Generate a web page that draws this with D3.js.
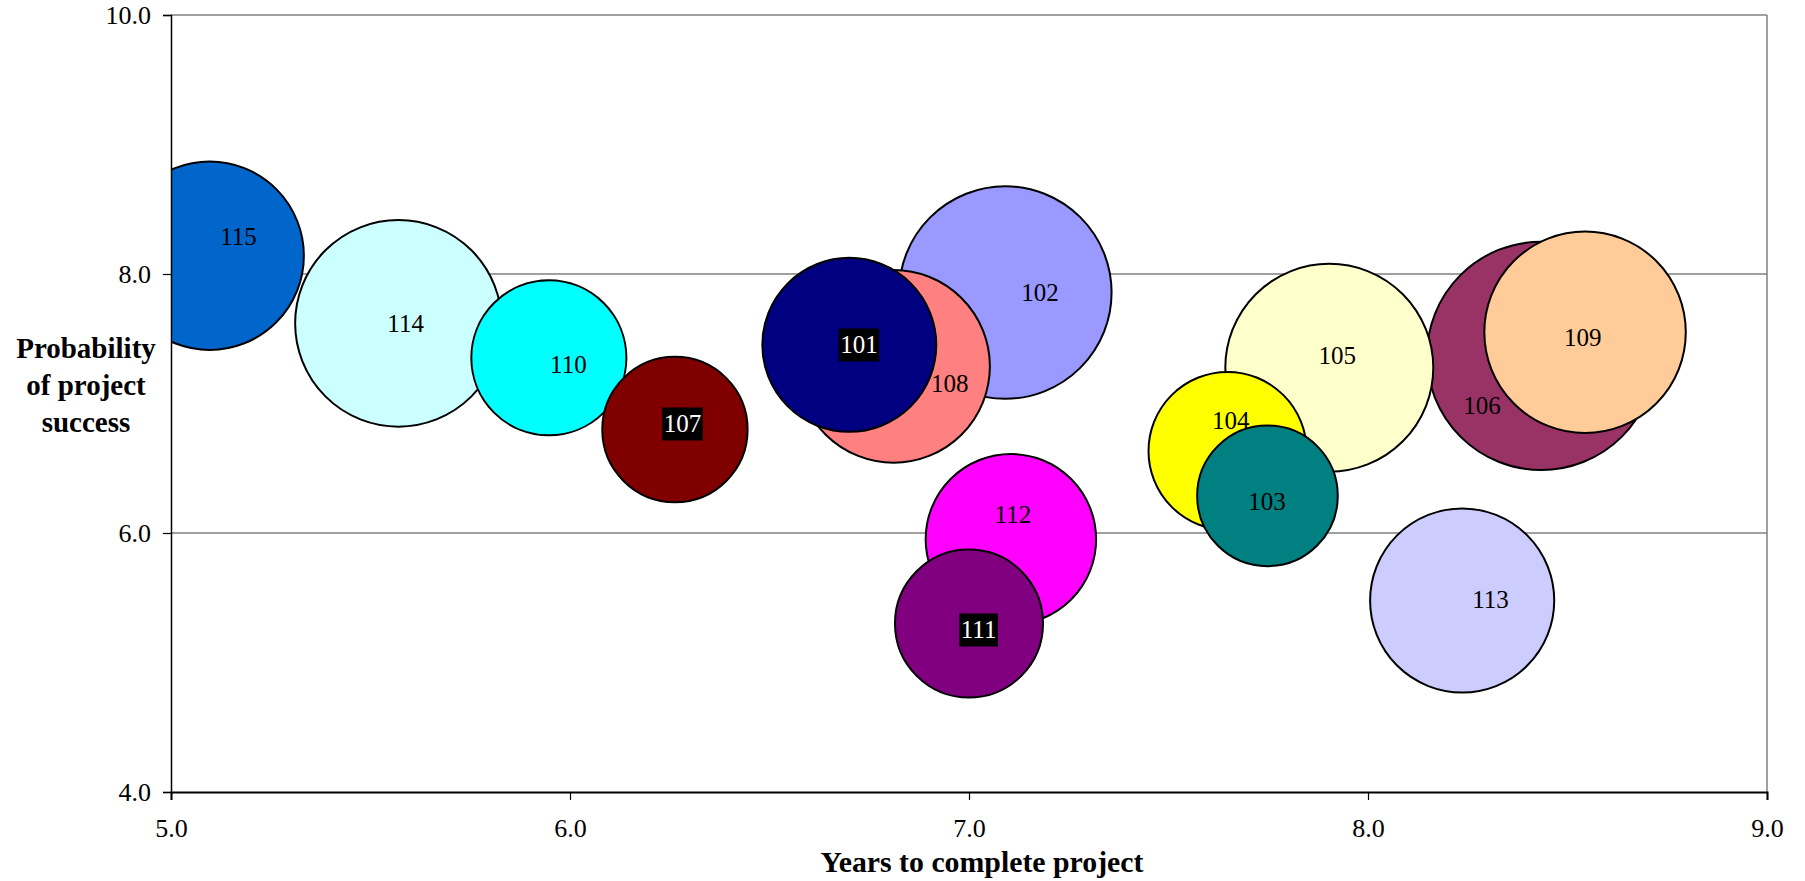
<!DOCTYPE html>
<html>
<head>
<meta charset="utf-8">
<script src="https://cdn.jsdelivr.net/npm/d3@7"></script>
<style>
  html, body { margin: 0; padding: 0; background: #ffffff; }
  svg { display: block; }
  text { font-family: "Liberation Serif", "Times New Roman", serif; }
</style>
</head>
<body>
<svg id="chart" width="1805" height="881"></svg>
<script>
// ---- Data ----
const projects    = ["101","102","103","104","105","106","107","108","109","110","111","112","113","114","115"];
const years       = [6.700, 7.091, 7.748, 7.648, 7.903, 8.434, 6.263, 6.811, 8.544, 5.947, 7.000, 7.105, 8.236, 5.570, 5.097];
const probability = [7.453, 7.857, 6.287, 6.633, 7.276, 7.368, 6.799, 7.287, 7.550, 7.353, 5.301, 5.952, 5.479, 7.619, 8.141];
const bubbleSize  = [58.0, 86.6, 37.9, 47.9, 82.9, 100.0, 40.5, 71.1, 77.8, 46.1, 42.0, 55.7, 65.0, 81.8, 68.0];
const fillColors  = ["#000080","#9999FF","#008080","#FFFF00","#FFFFCC","#993366","#800000","#FF8080","#FFCC99","#00FFFF","#800080","#FF00FF","#CCCCFF","#CCFFFF","#0066CC"];
// data-label anchor points (in data units) as placed in the reference
const labelYears  = [6.724, 7.178, 7.747, 7.656, 7.923, 8.286, 6.282, 6.952, 8.538, 5.996, 7.024, 7.110, 8.307, 5.588, 5.169];
const labelProb   = [7.452, 7.859, 6.240, 6.867, 7.368, 6.983, 6.842, 7.151, 7.511, 7.305, 5.251, 6.144, 5.483, 7.614, 8.286];
const boxedLabels = ["101","107","111"];
const xTickValues = [5, 6, 7, 8, 9];
const yTickValues = [4, 6, 8, 10];
const xTitle = "Years to complete project";
const yTitleLines = ["Probability", "of project", "success"];

// ---- Layout ----
const plot = { left: 171, right: 1767, top: 15, bottom: 792 };
const svg = d3.select("#chart");

const x = d3.scaleLinear().domain([5, 9]).range([plot.left, plot.right]);
const y = d3.scaleLinear().domain([4, 10]).range([plot.bottom, plot.top]);
const r = d3.scaleSqrt().domain([0, d3.max(bubbleSize)]).range([0, 114.2]);

const rows = projects.map((p, i) => ({
  id: p, x: years[i], y: probability[i], size: bubbleSize[i], color: fillColors[i],
  lx: labelYears[i], ly: labelProb[i], boxed: boxedLabels.includes(p)
}));

svg.append("defs").append("clipPath").attr("id", "plotClip")
  .append("rect")
  .attr("x", plot.left).attr("y", plot.top)
  .attr("width", plot.right - plot.left).attr("height", plot.bottom - plot.top);

// gridlines (grey) incl. top border
svg.append("g")
  .selectAll("line")
  .data(yTickValues.filter(v => v !== 4))
  .join("line")
  .attr("x1", plot.left).attr("x2", plot.right)
  .attr("y1", d => y(d)).attr("y2", d => y(d))
  .attr("stroke", "#808080").attr("stroke-width", 1.5);

// right border
svg.append("line")
  .attr("x1", plot.right).attr("x2", plot.right)
  .attr("y1", plot.top).attr("y2", plot.bottom)
  .attr("stroke", "#808080").attr("stroke-width", 1.5);

// bubbles: larger drawn first
const sorted = rows.slice().sort((a, b) => b.size - a.size);
svg.append("g").attr("clip-path", "url(#plotClip)")
  .selectAll("circle")
  .data(sorted)
  .join("circle")
  .attr("cx", d => x(d.x))
  .attr("cy", d => y(d.y))
  .attr("r", d => r(d.size))
  .attr("fill", d => d.color)
  .attr("stroke", "#000")
  .attr("stroke-width", 2);

// axes
const yAxis = d3.axisLeft(y).tickValues(yTickValues).tickFormat(d3.format(".1f")).tickSize(8).tickPadding(12);
const gy = svg.append("g").attr("transform", `translate(${plot.left},0)`).call(yAxis);
gy.select(".domain").attr("stroke", "#000").attr("stroke-width", 1.5);
gy.selectAll(".tick line").attr("stroke", "#000").attr("stroke-width", 1.2);
gy.selectAll(".tick text").attr("font-size", 26).attr("fill", "#000")
  .attr("font-family", "'Liberation Serif', 'Times New Roman', serif");

const xAxis = d3.axisBottom(x).tickValues(xTickValues).tickFormat(d3.format(".1f")).tickSize(8).tickPadding(19);
const gx = svg.append("g").attr("transform", `translate(0,${plot.bottom})`).call(xAxis);
gx.select(".domain").attr("stroke", "#000").attr("stroke-width", 2);
gx.selectAll(".tick line").attr("stroke", "#000").attr("stroke-width", 1.2);
gx.selectAll(".tick text").attr("font-size", 26).attr("fill", "#000")
  .attr("font-family", "'Liberation Serif', 'Times New Roman', serif");

// data labels
const fs = 25;
const lg = svg.append("g");
rows.forEach(d => {
  const cx = x(d.lx), cy = y(d.ly);
  const g = lg.append("g");
  const t = g.append("text")
    .attr("x", cx).attr("y", cy + fs * 0.34)
    .attr("text-anchor", "middle")
    .attr("font-size", fs)
    .attr("fill", d.boxed ? "#fff" : "#000")
    .text(d.id);
  if (d.boxed) {
    const w = t.node().getComputedTextLength() + 3;
    g.insert("rect", "text")
      .attr("x", cx - w / 2).attr("y", cy - 16.5)
      .attr("width", w).attr("height", 33)
      .attr("fill", "#000");
  }
});

// axis titles
svg.append("text")
  .attr("x", 982).attr("y", 872)
  .attr("text-anchor", "middle")
  .attr("font-size", 29.8).attr("font-weight", "bold")
  .text(xTitle);

svg.append("g").selectAll("text")
  .data(yTitleLines)
  .join("text")
  .attr("x", 86)
  .attr("y", (d, i) => 358 + i * 37)
  .attr("text-anchor", "middle")
  .attr("font-size", 29).attr("font-weight", "bold")
  .text(d => d);
</script>
</body>
</html>
